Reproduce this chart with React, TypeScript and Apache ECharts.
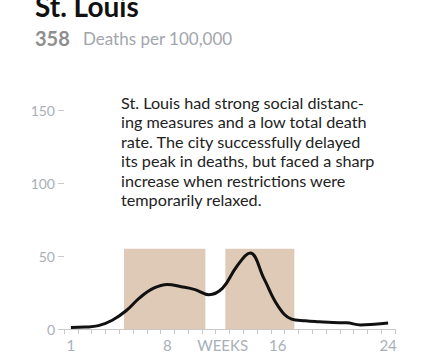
import React, { useEffect, useRef } from "react";
import * as echarts from "echarts";

// ---- data ----
const weeks = ["1", "2", "3", "4", "5", "6", "7", "8", "9", "10", "11", "12", "13", "14", "15", "16", "17", "18", "19", "20", "21", "22", "23", "24"];
const deathRate = [1.0, 1.3, 2.3, 6.0, 12.5, 21.5, 28.0, 30.5, 29.0, 27.0, 23.5, 28.0, 42.5, 52.0, 34.5, 16.0, 6.8, 5.7, 5.0, 4.4, 4.2, 2.8, 3.3, 4.1];
const labeledWeeks = ["1", "8", "12", "16", "24"];
const axisTitleWeek = "12";
const axisTitle = "WEEKS";
const restrictionPeriods = [
  [4.85, 10.75],
  [12.2, 17.2],
];
const restrictionBandTop = 55;
const yMin = 0;
const yMax = 150;
const yInterval = 50;

const titleText = "St. Louis";
const totalDeaths = "358";
const totalLabel = "Deaths per 100,000";
const noteLines = [
  "St. Louis had strong social distanc-",
  "ing measures and a low total death",
  "rate. The city successfully delayed",
  "its peak in deaths, but faced a sharp",
  "increase when restrictions were",
  "temporarily relaxed.",
];

const FONT = "Lato, 'Open Sans', sans-serif";
const AXIS_TEXT = "#a9afb7";
const AXIS_LINE = "#c9c9c9";

export default function App() {
  const ref = useRef<HTMLDivElement>(null);

  useEffect(() => {
    if (!ref.current) return;
    const chart = echarts.init(ref.current, null, { renderer: "svg" });
    chart.setOption({
      animation: false,
      grid: { left: 64, right: 48, top: 110, bottom: 32 },
      xAxis: [
        {
          type: "category",
          data: weeks,
          boundaryGap: true,
          axisLine: { lineStyle: { color: AXIS_LINE, width: 1 } },
          axisTick: { show: true, interval: 0, length: 5, lineStyle: { color: AXIS_LINE } },
          axisLabel: {
            interval: (_i: number, v: string) => labeledWeeks.includes(v),
            formatter: (v: string) => (v === axisTitleWeek ? axisTitle : v),
            color: AXIS_TEXT,
            fontSize: 15,
            fontFamily: FONT,
            margin: 8,
          },
          splitLine: { show: false },
        },
        { type: "value", min: 0.5, max: 24.5, show: false, splitLine: { show: false } },
      ],
      yAxis: {
        type: "value",
        min: yMin,
        max: yMax,
        interval: yInterval,
        splitLine: { show: false },
        axisLine: { show: false },
        axisTick: { show: true, length: 6, lineStyle: { color: AXIS_LINE } },
        axisLabel: { color: AXIS_TEXT, fontSize: 14, margin: 9, fontFamily: FONT },
      },
      series: [
        {
          type: "custom",
          xAxisIndex: 1,
          yAxisIndex: 0,
          silent: true,
          z: 1,
          data: restrictionPeriods,
          renderItem: (_params: any, api: any) => {
            const p0 = api.coord([api.value(0), restrictionBandTop]);
            const p1 = api.coord([api.value(1), 0]);
            return {
              type: "rect",
              shape: { x: p0[0], y: p0[1], width: p1[0] - p0[0], height: p1[1] - p0[1] },
              style: { fill: "#dfc9b7" },
            };
          },
        },
        {
          type: "line",
          xAxisIndex: 0,
          yAxisIndex: 0,
          data: deathRate,
          smooth: 0.4,
          symbol: "none",
          z: 3,
          lineStyle: { color: "#111111", width: 3 },
        },
      ],
      graphic: [
        {
          type: "text",
          x: 35,
          y: 6,
          style: { text: titleText, font: `bold 28px ${FONT}`, fill: "#111111", verticalAlign: "middle", align: "left" },
        },
        {
          type: "text",
          x: 35,
          y: 37.5,
          style: { text: totalDeaths, font: `bold 20px ${FONT}`, fill: "#8e8e8e", verticalAlign: "middle", align: "left" },
        },
        {
          type: "text",
          x: 83,
          y: 38.5,
          style: { text: totalLabel, font: `17px ${FONT}`, fill: "#a2a6ab", verticalAlign: "middle", align: "left" },
        },
        {
          type: "text",
          x: 121,
          y: 92.5,
          style: {
            text: noteLines.join("\n"),
            font: `16.2px ${FONT}`,
            lineHeight: 19.5,
            fill: "#222222",
            verticalAlign: "top",
            align: "left",
          },
        },
      ],
    });
    return () => chart.dispose();
  }, []);

  return <div ref={ref} style={{ width: 443, height: 361, position: "absolute", left: 0, top: 0 }} />;
}
